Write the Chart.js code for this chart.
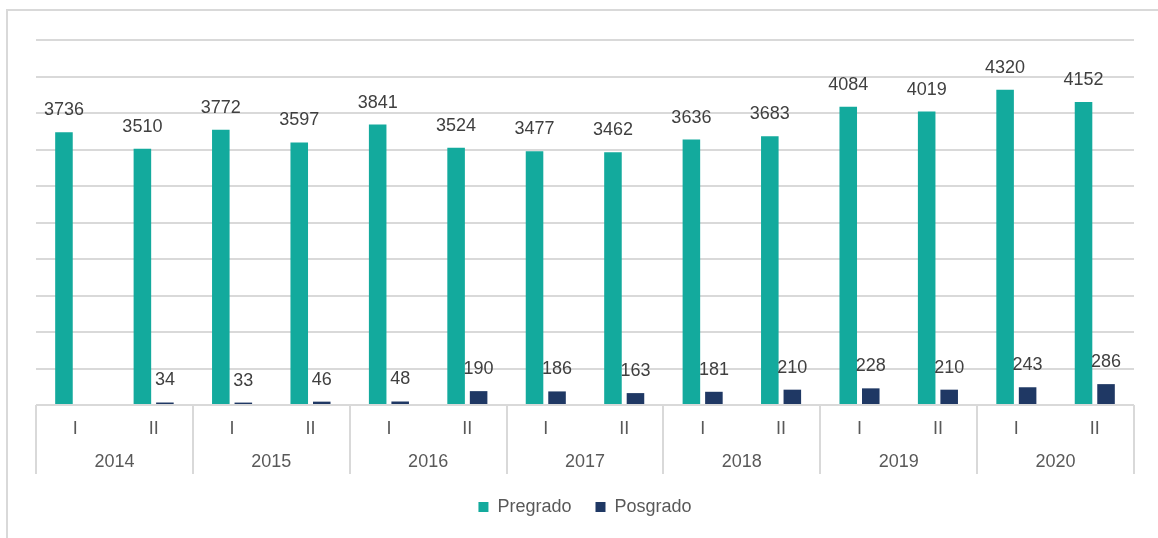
<!DOCTYPE html>
<html>
<head>
<meta charset="utf-8">
<script src="https://cdn.jsdelivr.net/npm/chart.js@4.4.1/dist/chart.umd.min.js"></script>
<style>
  html, body { margin: 0; padding: 0; background: #fff; }
  #wrap { position: relative; width: 1158px; height: 538px; }
  #frame { position: absolute; left: 6px; top: 9px; width: 1160px; height: 540px;
           border-left: 2px solid #d9d9d9; border-top: 2px solid #d9d9d9; box-sizing: border-box; }
  canvas { position: absolute; left: 0; top: 0; }
</style>
</head>
<body>
<div id="wrap">
  <div id="frame"></div>
  <canvas id="c" width="1158" height="538"></canvas>
</div>
<script>
const semesters = ['I','II','I','II','I','II','I','II','I','II','I','II','I','II'];
const years = ['2014','2015','2016','2017','2018','2019','2020'];
const pregrado = [3736, 3510, 3772, 3597, 3841, 3524, 3477, 3462, 3636, 3683, 4084, 4019, 4320, 4152];
const posgrado = [null, 34, 33, 46, 48, 190, 186, 163, 181, 210, 228, 210, 243, 286];

const FONT = "'Liberation Sans', Arial, sans-serif";

const valueLabels = {
  id: 'valueLabels',
  afterDatasetsDraw(chart) {
    const ctx = chart.ctx;
    ctx.save();
    ctx.font = '18px ' + FONT;
    ctx.fillStyle = '#404040';
    ctx.textAlign = 'center';
    ctx.textBaseline = 'middle';
    chart.data.datasets.forEach((ds, di) => {
      const meta = chart.getDatasetMeta(di);
      meta.data.forEach((bar, i) => {
        const v = ds.data[i];
        if (v === null || v === undefined) return;
        ctx.fillText(String(v), bar.x, bar.y - 22);
      });
    });
    ctx.restore();
  }
};

const separators = {
  id: 'separators',
  afterDraw(chart) {
    const x2 = chart.scales.x2;
    const ctx = chart.ctx;
    const n = years.length;
    const top = chart.chartArea.bottom;
    const bottom = x2.bottom;
    const xs = [];
    for (let i = 0; i <= n; i++) {
      let px;
      if (i === 0) px = x2.left;
      else if (i === n) px = x2.right;
      else px = (x2.getPixelForValue(i - 1) + x2.getPixelForValue(i)) / 2;
      xs.push(px);
    }
    ctx.save();
    ctx.strokeStyle = '#d9d9d9';
    ctx.lineWidth = 2;
    xs.forEach(px => {
      const p = Math.round(px);
      ctx.beginPath();
      ctx.moveTo(p, top);
      ctx.lineTo(p, bottom);
      ctx.stroke();
    });
    ctx.restore();
  }
};

new Chart(document.getElementById('c'), {
  type: 'bar',
  data: {
    labels: semesters,
    datasets: [
      { label: 'Pregrado', data: pregrado, backgroundColor: '#13AA9D',
        categoryPercentage: 0.574, barPercentage: 0.78 },
      { label: 'Posgrado', data: posgrado, backgroundColor: '#1F3864',
        categoryPercentage: 0.574, barPercentage: 0.78 }
    ]
  },
  options: {
    responsive: false,
    animation: false,
    layout: { padding: { left: 36, right: 24, top: 40, bottom: 12 } },
    plugins: {
      legend: {
        position: 'bottom',
        labels: {
          font: { size: 18, family: FONT },
          color: '#595959',
          boxWidth: 10,
          boxHeight: 10,
          padding: 24
        }
      },
      tooltip: { enabled: false }
    },
    scales: {
      y: {
        min: 0, max: 5000,
        ticks: { stepSize: 500, display: false },
        grid: { color: '#d9d9d9', lineWidth: 2, drawTicks: false },
        border: { display: false },
        afterFit(s) { s.width = 0; }
      },
      x: {
        position: 'bottom',
        grid: { display: false, drawTicks: false },
        border: { display: false },
        ticks: { font: { size: 18, family: FONT }, color: '#595959', padding: 13, maxRotation: 0, autoSkip: false },
        afterFit(s) { s.height = 35; }
      },
      x2: {
        type: 'category',
        labels: years,
        position: 'bottom',
        offset: true,
        grid: { display: false, drawTicks: false },
        border: { display: false },
        ticks: { font: { size: 18, family: FONT }, color: '#595959', padding: 11, maxRotation: 0, autoSkip: false },
        afterFit(s) { s.height = 34; }
      }
    }
  },
  plugins: [valueLabels, separators]
});
</script>
</body>
</html>
